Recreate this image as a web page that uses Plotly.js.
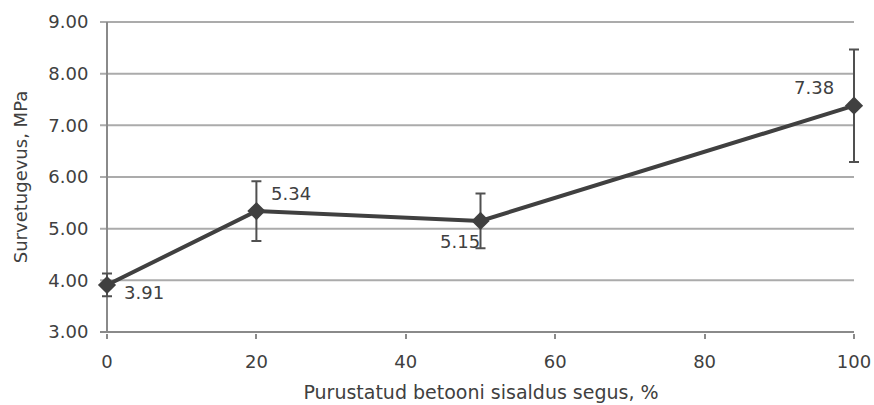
<!DOCTYPE html>
<html>
<head>
<meta charset="utf-8">
<script src="https://cdn.plot.ly/plotly-3.0.1.min.js"></script>
<style>
  html, body { margin: 0; padding: 0; background: #ffffff; }
  #chart { width: 874px; height: 405px; }
</style>
</head>
<body>
<div id="chart"></div>
<script>
// Compressive strength vs. share of crushed concrete in the mix
const content = [0, 20, 50, 100];            // Purustatud betooni sisaldus, %
const strength = [3.91, 5.34, 5.15, 7.38];  // Survetugevus, MPa
const deviation = [0.22, 0.58, 0.53, 1.09]; // error bar half-length, MPa
const xTicks = [0, 20, 40, 60, 80, 100];
const yTicks = [3, 4, 5, 6, 7, 8, 9];

const ink = '#404040';
const gridGray = '#ababab';
const axisGray = '#8a8a8a';
const font = 'DejaVu Sans, Verdana, sans-serif';

// Frame geometry (px). The plotting area is slightly wider/taller than the
// drawn axes so the end error bars are not cut off; axis lines, grid lines
// and the small tick stubs are drawn as shapes between the axis limits.
const W = 874, H = 405;
const plotLeft = 100, axisLeft = 107, axisRight = 854, plotRight = 862;
const axisTop = 22, axisBottom = 332;
const xMin = xTicks[0], xMax = xTicks[xTicks.length - 1];
const yMin = yTicks[0], yMax = yTicks[yTicks.length - 1];
const xUnit = (axisRight - axisLeft) / (xMax - xMin);
const yUnit = (axisBottom - axisTop) / (yMax - yMin);
const xRange = [xMin - (axisLeft - plotLeft) / xUnit, xMax + (plotRight - axisRight) / xUnit];
const yRange = [yMin - 1 / yUnit, yMax + 1 / yUnit];

// label placement around each point (px)
const labelShift = [
  { x: 37, y: -8 },
  { x: 35, y: 18 },
  { x: -21, y: -21 },
  { x: -40, y: 18 }
];

const trace = {
  x: content,
  y: strength,
  type: 'scatter',
  mode: 'lines+markers',
  line: { color: ink, width: 4 },
  marker: { symbol: 'diamond', size: 14, color: ink },
  error_y: {
    type: 'data',
    array: deviation,
    visible: true,
    color: '#505050',
    thickness: 2,
    width: 5
  },
  cliponaxis: false,
  hoverinfo: 'skip'
};

const annotations = content.map((c, i) => ({
  x: c,
  y: strength[i],
  text: strength[i].toFixed(2),
  showarrow: false,
  xshift: labelShift[i].x,
  yshift: labelShift[i].y,
  font: { family: font, size: 18, color: ink }
}));

// horizontal grid lines (the lowest one doubles as the x axis line)
const shapes = yTicks.map(v => ({
  type: 'line', layer: 'below',
  xref: 'x', yref: 'y',
  x0: xRange[0], x1: xMax, y0: v, y1: v,
  line: { color: v === yMin ? axisGray : gridGray, width: 2 }
}));
// vertical axis line
shapes.push({
  type: 'line', layer: 'below',
  xref: 'x', yref: 'y',
  x0: xMin, x1: xMin, y0: yMin, y1: yMax,
  line: { color: axisGray, width: 2 }
});

const layout = {
  width: W,
  height: H,
  margin: { l: plotLeft, r: W - plotRight, t: axisTop - 1, b: H - axisBottom - 1 },
  paper_bgcolor: '#ffffff',
  plot_bgcolor: '#ffffff',
  showlegend: false,
  font: { family: font, size: 18, color: ink },
  xaxis: {
    range: xRange,
    tickvals: xTicks,
    ticktext: xTicks.map(String),
    showgrid: false,
    zeroline: false,
    showline: false,
    ticks: 'outside',
    ticklen: 5,
    tickwidth: 2,
    tickcolor: axisGray,
    ticklabelstandoff: 7,
    tickfont: { family: font, size: 18, color: ink },
    title: {
      text: 'Purustatud betooni sisaldus segus, %',
      font: { family: font, size: 19, color: ink },
      standoff: 15
    }
  },
  yaxis: {
    range: yRange,
    tickvals: yTicks,
    ticktext: yTicks.map(v => v.toFixed(2)),
    showgrid: false,
    zeroline: false,
    showline: false,
    ticks: 'outside',
    ticklen: 7,
    tickcolor: 'rgba(0,0,0,0)',
    tickfont: { family: font, size: 18, color: ink },
    title: {
      text: 'Survetugevus, MPa',
      font: { family: font, size: 18, color: ink },
      standoff: 16
    }
  },
  shapes: shapes,
  annotations: annotations
};

Plotly.newPlot('chart', [trace], layout, { displayModeBar: false, staticPlot: true });
</script>
</body>
</html>
